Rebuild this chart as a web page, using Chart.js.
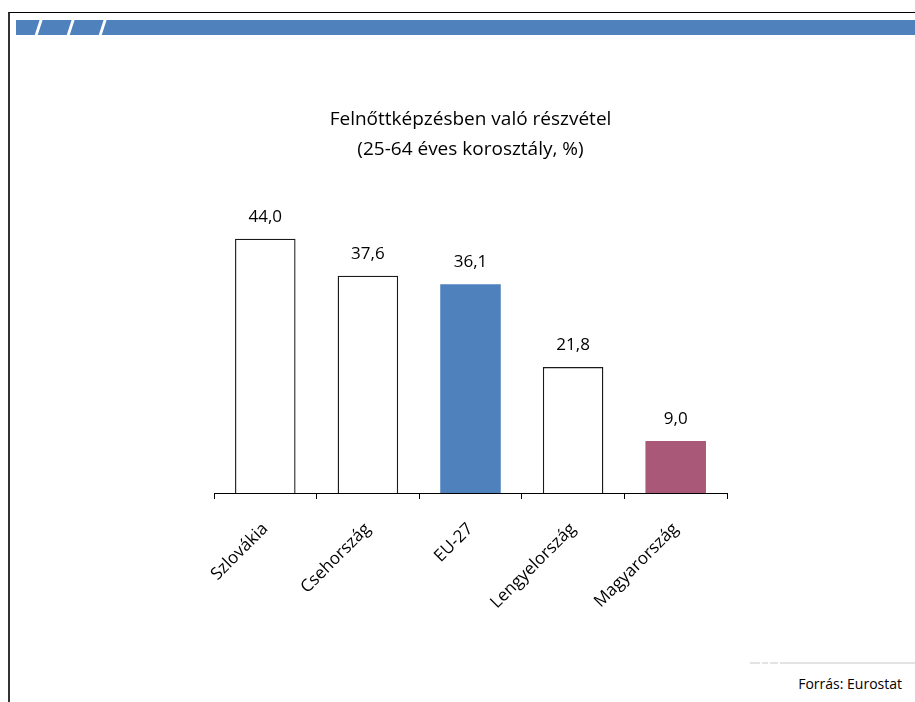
<!DOCTYPE html>
<html lang="hu">
<head>
<meta charset="utf-8">
<title>Felnőttképzésben való részvétel</title>
<script src="https://cdn.jsdelivr.net/npm/chart.js@4"></script>
<style>
    html, body { margin: 0; padding: 0; background: #fff; }
    #page { position: relative; width: 915px; height: 702px; overflow: hidden; font-family: 'Open Sans', sans-serif; }
    #frame { position: absolute; left: 8px; top: 12px; right: -2px; bottom: -2px; border-top: 1px solid #000; border-left: 2px solid #333; }
    #band { position: absolute; left: 16px; top: 20px; width: 899px; height: 15px; background: #4f81bd; overflow: hidden; }
    .cut { position: absolute; top: -2px; width: 3px; height: 20px; background: #fff; transform: skewX(-18deg); }
    #footline { position: absolute; left: 780px; top: 662px; width: 135px; height: 2px; background: #e3e3e3; }
    .dash { position: absolute; top: 662px; height: 2px; background: #e3e3e3; }
    #source { position: absolute; right: 13px; top: 674px; font-size: 14px; color: #000; }
    canvas { position: absolute; left: 0; top: 0; }
</style>
</head>
<body>
<div id="page">
    <div id="frame"></div>
    <div id="band">
        <div class="cut" style="left: 21px"></div>
        <div class="cut" style="left: 53px"></div>
        <div class="cut" style="left: 85px"></div>
    </div>
    <div class="dash" style="left: 750px; width: 10px"></div>
    <div class="dash" style="left: 762px; width: 6px"></div>
    <div class="dash" style="left: 770px; width: 8px"></div>
    <div id="footline"></div>
    <div id="source">Forrás: Eurostat</div>
    <canvas id="chart" width="915" height="702"></canvas>
</div>

<script>
const categories = ['Szlovákia', 'Csehország', 'EU-27', 'Lengyelország', 'Magyarország']
const values = [44.0, 37.6, 36.1, 21.8, 9.0]
const barColors = ['#ffffff', '#ffffff', '#4f81bd', '#ffffff', '#aa5878']
const edgeWidths = [1.4, 1.4, 0, 1.4, 0]
const titleLines = ['Felnőttképzésben való részvétel', '(25-64 éves korosztály, %)']

const fontFamily = "'Open Sans', sans-serif"

// Értékek kiírása az oszlopok fölé, tizedesvesszővel
const valueLabels = {
    id: 'valueLabels',
    afterDatasetsDraw(chart) {
        const ctx = chart.ctx
        const meta = chart.getDatasetMeta(0)
        ctx.save()
        ctx.font = `17px ${fontFamily}`
        ctx.fillStyle = '#000'
        ctx.textAlign = 'center'
        ctx.textBaseline = 'middle'
        meta.data.forEach((bar, i) => {
            ctx.fillText(values[i].toFixed(1).replace('.', ','), bar.x, bar.y - 22)
        })
        ctx.restore()
    }
}

const ctx = document.getElementById('chart')
new Chart(ctx, {
    type: 'bar',
    data: {
        labels: categories,
        datasets: [{
            data: values,
            backgroundColor: barColors,
            borderColor: '#1a1a1a',
            borderWidth: edgeWidths,
            categoryPercentage: 1,
            barPercentage: 0.59
        }]
    },
    options: {
        responsive: false,
        animation: false,
        devicePixelRatio: 1,
        layout: {
            padding: { left: 214, right: 188, top: 95, bottom: 0 }
        },
        plugins: {
            legend: { display: false },
            tooltip: { enabled: false },
            title: {
                display: true,
                text: titleLines,
                color: '#000',
                font: { family: fontFamily, size: 19, weight: 'normal', lineHeight: 30 / 19 },
                padding: { top: 10, bottom: 39 }
            }
        },
        scales: {
            x: {
                afterFit: (scale) => { scale.height = 209 },
                grid: {
                    drawOnChartArea: false,
                    drawTicks: true,
                    tickLength: 6,
                    color: '#000',
                    lineWidth: 1
                },
                border: { display: true, color: '#000', width: 1 },
                ticks: {
                    color: '#000',
                    autoSkip: false,
                    minRotation: 45,
                    maxRotation: 45,
                    padding: 20,
                    font: { family: fontFamily, size: 17 }
                }
            },
            y: {
                display: false,
                min: 0,
                max: 50
            }
        }
    },
    plugins: [valueLabels]
})
</script>
</body>
</html>
